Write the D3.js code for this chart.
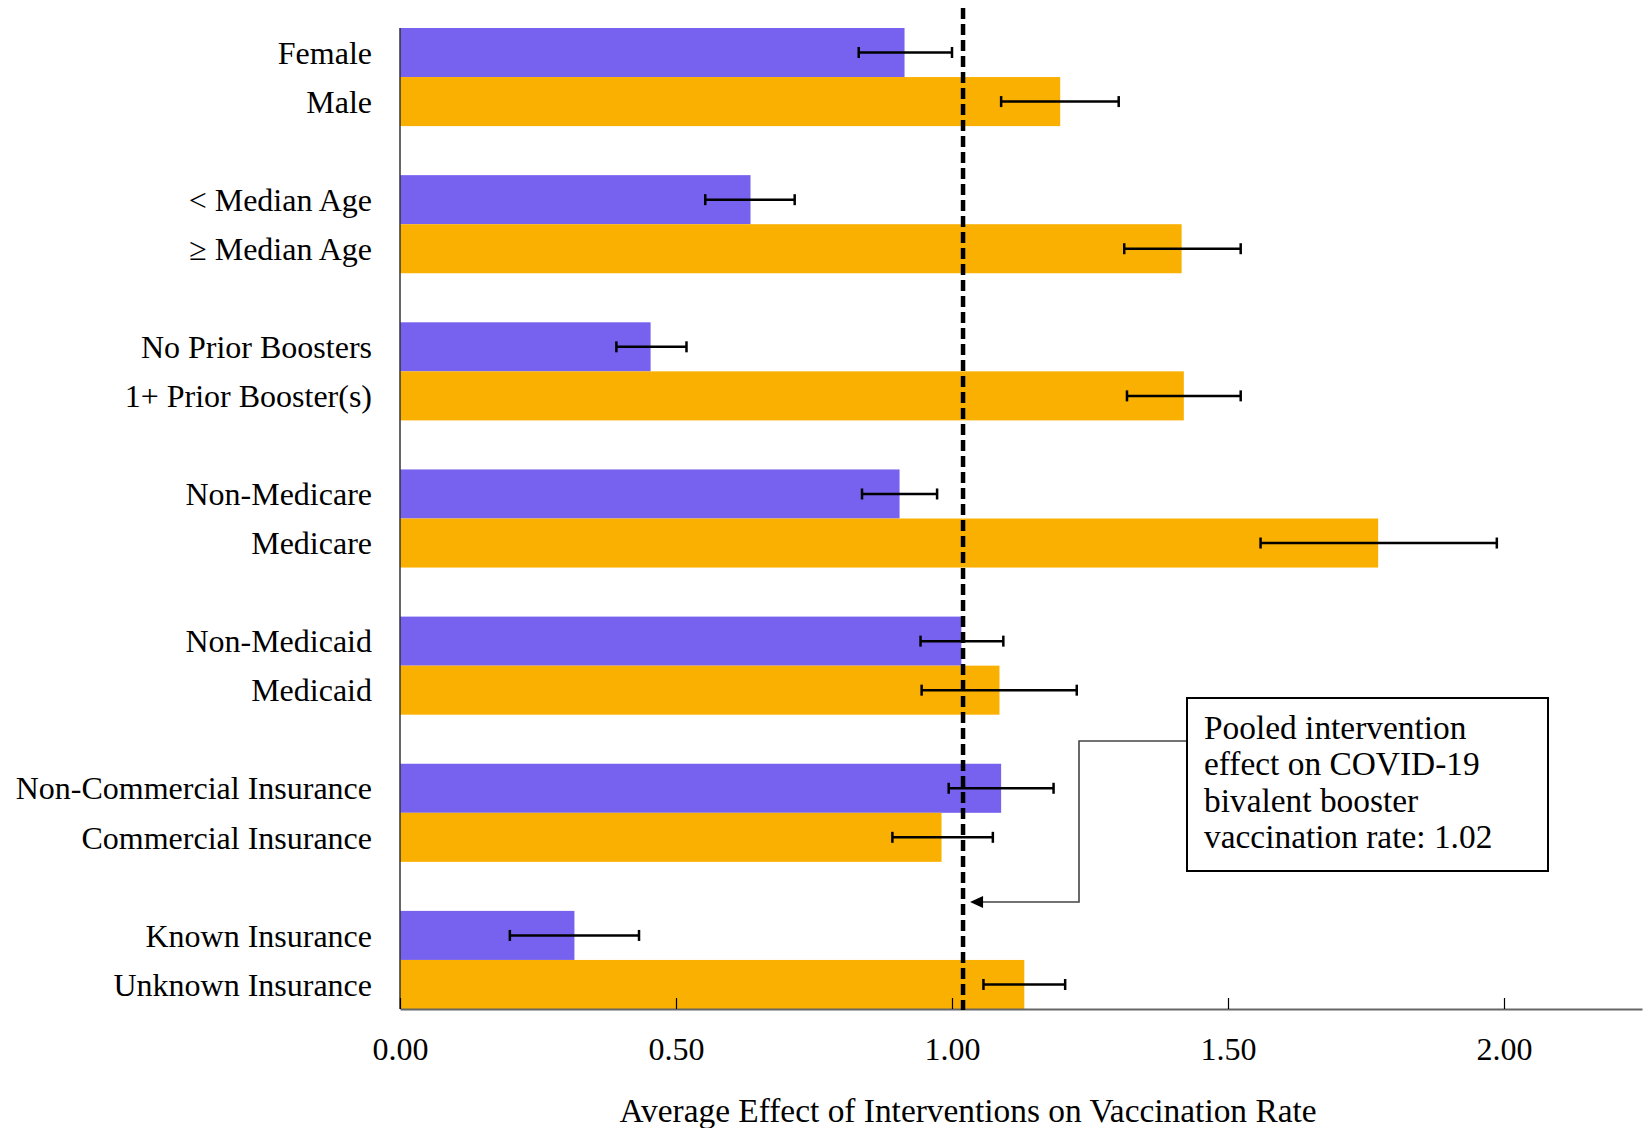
<!DOCTYPE html>
<html>
<head>
<meta charset="utf-8">
<script src="https://cdn.jsdelivr.net/npm/d3@7"></script>
<style>
  html, body { margin: 0; padding: 0; background: #fff; }
  svg { display: block; font-family: "Liberation Serif", "Times New Roman", serif; }
</style>
</head>
<body>
<svg id="chart" width="1646" height="1128"></svg>
<script>
// Subgroup comparisons: each pair is [first subgroup, second subgroup]
const groups = ["sex", "age", "boosters", "medicare", "medicaid", "commercial", "known"];
const firstLabels  = ["Female", "< Median Age", "No Prior Boosters", "Non-Medicare",
                      "Non-Medicaid", "Non-Commercial Insurance", "Known Insurance"];
const secondLabels = ["Male", "\u2265 Median Age", "1+ Prior Booster(s)", "Medicare",
                      "Medicaid", "Commercial Insurance", "Unknown Insurance"];

// Average effect (bar) and confidence limits (error bars)
const firstValues  = [0.914, 0.635, 0.454, 0.905, 1.017, 1.089, 0.316];
const firstLower   = [0.831, 0.553, 0.392, 0.837, 0.943, 0.994, 0.199];
const firstUpper   = [1.000, 0.715, 0.519, 0.973, 1.093, 1.184, 0.433];
const secondValues = [1.196, 1.416, 1.420, 1.772, 1.086, 0.981, 1.131];
const secondLower  = [1.089, 1.312, 1.317, 1.559, 0.945, 0.892, 1.057];
const secondUpper  = [1.302, 1.523, 1.523, 1.987, 1.226, 1.074, 1.205];

const pooledEffect = 1.02;
const xTicks = [0, 0.5, 1.0, 1.5, 2.0];
const xMax = 2.25;

const svg = d3.select("#chart");
const colors = { first: "#7761ef", second: "#f9b000" };

const x = d3.scaleLinear().domain([0, xMax]).range([400, 1642]);
const y = d3.scaleBand().domain(groups).range([28, 1009]).paddingInner(1 / 3).paddingOuter(0);
const sub = d3.scaleBand().domain(["first", "second"]).range([0, y.bandwidth()]);

const rows = [];
groups.forEach((g, i) => {
  rows.push({ g, part: "first", label: firstLabels[i], v: firstValues[i], lo: firstLower[i], hi: firstUpper[i] });
  rows.push({ g, part: "second", label: secondLabels[i], v: secondValues[i], lo: secondLower[i], hi: secondUpper[i] });
});
const rowY = d => y(d.g) + sub(d.part);
const rowMid = d => rowY(d) + sub.bandwidth() / 2;

// Bars
svg.append("g").selectAll("rect").data(rows).join("rect")
  .attr("x", x(0))
  .attr("y", rowY)
  .attr("width", d => x(d.v) - x(0))
  .attr("height", sub.bandwidth())
  .attr("fill", d => colors[d.part]);

// Category labels
svg.append("g").selectAll("text").data(rows).join("text")
  .attr("x", x(0) - 28)
  .attr("y", rowMid)
  .attr("dy", "0.35em")
  .attr("text-anchor", "end")
  .attr("font-size", 32)
  .attr("fill", "#000")
  .text(d => d.label);

// Error bars
const err = svg.append("g").attr("stroke", "#000").attr("stroke-width", 2.5).attr("fill", "none");
err.selectAll("line.span").data(rows).join("line").attr("class", "span")
  .attr("x1", d => x(d.lo)).attr("x2", d => x(d.hi))
  .attr("y1", rowMid).attr("y2", rowMid);
err.selectAll("line.capL").data(rows).join("line").attr("class", "capL")
  .attr("x1", d => x(d.lo)).attr("x2", d => x(d.lo))
  .attr("y1", d => rowMid(d) - 5.5).attr("y2", d => rowMid(d) + 5.5);
err.selectAll("line.capR").data(rows).join("line").attr("class", "capR")
  .attr("x1", d => x(d.hi)).attr("x2", d => x(d.hi))
  .attr("y1", d => rowMid(d) - 5.5).attr("y2", d => rowMid(d) + 5.5);

// Y axis line
svg.append("line")
  .attr("x1", x(0)).attr("x2", x(0))
  .attr("y1", 28).attr("y2", 1009)
  .attr("stroke", "#333").attr("stroke-width", 1.5);

// X axis
const xAxis = d3.axisBottom(x)
  .tickValues(xTicks)
  .tickFormat(d3.format(".2f"))
  .tickSizeInner(-11)
  .tickSizeOuter(0)
  .tickPadding(28);
const gx = svg.append("g").attr("transform", "translate(0,1009)").call(xAxis);
gx.select(".domain").attr("stroke", "#666").attr("stroke-width", 2);
gx.selectAll(".tick line").attr("stroke", "#000").attr("stroke-width", 1.2);
gx.selectAll(".tick text")
  .attr("font-size", 32)
  .attr("font-family", "Liberation Serif, Times New Roman, serif")
  .attr("fill", "#000");

svg.append("text")
  .attr("x", 968).attr("y", 1122)
  .attr("text-anchor", "middle")
  .attr("font-size", 33.4)
  .attr("fill", "#000")
  .text("Average Effect of Interventions on Vaccination Rate");

// Pooled effect reference line
svg.append("line")
  .attr("x1", x(pooledEffect)).attr("x2", x(pooledEffect))
  .attr("y1", 8).attr("y2", 1010)
  .attr("stroke", "#000").attr("stroke-width", 4.5)
  .attr("stroke-dasharray", "11,5");

// Annotation box with connector arrow
const box = { x: 1187, y: 698, w: 361, h: 173 };
const arrowY = 902;
const tipX = x(pooledEffect) + 7;
svg.append("path")
  .attr("d", `M${box.x},741 H1079 V${arrowY} H${tipX + 12}`)
  .attr("fill", "none").attr("stroke", "#444").attr("stroke-width", 1.6);
svg.append("path")
  .attr("d", `M${tipX},${arrowY} L${tipX + 13},${arrowY - 6} L${tipX + 13},${arrowY + 6} Z`)
  .attr("fill", "#000");
svg.append("rect")
  .attr("x", box.x).attr("y", box.y).attr("width", box.w).attr("height", box.h)
  .attr("fill", "#fff").attr("stroke", "#000").attr("stroke-width", 2);
const noteLines = ["Pooled intervention", "effect on COVID-19", "bivalent booster",
                   `vaccination rate: ${d3.format(".2f")(pooledEffect)}`];
svg.append("g").selectAll("text").data(noteLines).join("text")
  .attr("x", box.x + 17)
  .attr("y", (d, i) => 739 + i * 36.3)
  .attr("font-size", 33.4)
  .attr("fill", "#000")
  .text(d => d);
</script>
</body>
</html>
